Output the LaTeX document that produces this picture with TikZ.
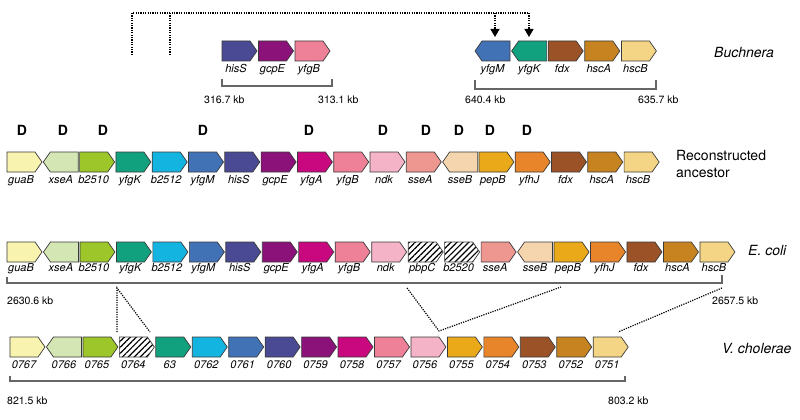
\documentclass[tikz,border=0pt]{standalone}
\usepackage{fontspec}
\setmainfont{TeX Gyre Heros}
\usetikzlibrary{arrows.meta,patterns.meta}
\definecolor{cguaB}{HTML}{F8F4B0}
\definecolor{cxseA}{HTML}{D3E6B4}
\definecolor{cbb}{HTML}{9CC62A}
\definecolor{cyfgK}{HTML}{11A17E}
\definecolor{cbd}{HTML}{14B4E1}
\definecolor{cyfgM}{HTML}{4272B6}
\definecolor{chisS}{HTML}{4A4A94}
\definecolor{cgcpE}{HTML}{8B1279}
\definecolor{cyfgA}{HTML}{C9087F}
\definecolor{cyfgB}{HTML}{EE8098}
\definecolor{cndk}{HTML}{F4B3C6}
\definecolor{csseA}{HTML}{EE9690}
\definecolor{csseB}{HTML}{F4D5AE}
\definecolor{cpepB}{HTML}{E9A918}
\definecolor{cyfhJ}{HTML}{E8852A}
\definecolor{cfdx}{HTML}{9A5226}
\definecolor{chscA}{HTML}{C7831F}
\definecolor{chscB}{HTML}{F4D585}
\definecolor{outl}{HTML}{3A3A3A}
\definecolor{brk}{HTML}{666666}
\tikzset{
  genebox/.style={draw=outl,line width=0.7pt,line join=miter},
  geneanchor/.style={inner sep=0pt,minimum width=35pt,minimum height=20pt},
  genelab/.style={anchor=base,inner sep=0pt,font=\fontsize{11}{12}\selectfont\itshape},
  kblab/.style={anchor=base west,inner sep=0pt,font=\fontsize{10.5}{12}\selectfont},
  species/.style={anchor=base west,inner sep=0pt,font=\fontsize{14}{16}\selectfont},
  dlab/.style={anchor=base,inner sep=0pt,font=\fontsize{14}{16}\selectfont\bfseries},
  bracket/.style={draw=brk,line width=1.1pt},
  dots/.style={draw=black,line width=1.2pt,dash pattern=on 1.2pt off 1.2pt},
  hatch/.style={preaction={fill=white},pattern={Lines[angle=45,distance=4.2pt,line width=1.2pt]}}
}
\def\lbloff{31}
% #1 name, #2 x, #3 ytop, #4 colour, #5 label
\newcommand\geneR[5]{%
  \draw[genebox,fill=#4] (#2,#3) -- ++(28,0) -- ++(7,10) -- ++(-7,10) -- ++(-28,0) -- cycle;
  \node[geneanchor] (#1) at ({#2+17.5},{#3+10}) {};
  \node[genelab] (#1-l) at ({#2+14},{#3+\lbloff}) {#5};
}
\newcommand\geneL[5]{%
  \draw[genebox,fill=#4] (#2,{#3+10}) -- ++(7,-10) -- ++(28,0) -- ++(0,20) -- ++(-28,0) -- cycle;
  \node[geneanchor] (#1) at ({#2+17.5},{#3+10}) {};
  \node[genelab] (#1-l) at ({#2+17.5},{#3+\lbloff}) {#5};
}
\newcommand\geneH[5]{%
  \draw[genebox,hatch] (#2,#3) -- ++(28,0) -- ++(7,10) -- ++(-7,10) -- ++(-28,0) -- cycle;
  \node[geneanchor] (#1) at ({#2+17.5},{#3+10}) {};
  \node[genelab] (#1-l) at ({#2+14},{#3+\lbloff}) {#5};
}
\begin{document}
\begin{tikzpicture}[x=1pt,y=-1pt]
\useasboundingbox (0,0) rectangle (800,420);
\fill[white] (0,0) rectangle (800,420);

% ---------- Buchnera ----------
\foreach \n/\c/\d/\l [count=\i from 0, evaluate=\i as \gx using 222+\i*36.5] in
  {hisS/chisS/R/hisS, gcpE/cgcpE/R/gcpE, yfgB/cyfgB/R/yfgB}
  {\csname gene\d\endcsname{bu-\n}{\gx}{41}{\c}{\l}}
\foreach \n/\c/\d/\l [count=\i from 0, evaluate=\i as \gx using 475+\i*36.6] in
  {yfgM/cyfgM/L/yfgM, yfgK/cyfgK/L/yfgK, fdx/cfdx/R/fdx, hscA/chscA/R/hscA, hscB/chscB/R/hscB}
  {\csname gene\d\endcsname{bu-\n}{\gx}{41}{\c}{\l}}

\coordinate (bka) at (222,79); \coordinate (bkb) at (222,86); \coordinate (bkc) at (332,79);
\draw[bracket] (bka) -- (bkb) -| (bkc);
\coordinate (bkd) at (475,80); \coordinate (bke) at (475,89); \coordinate (bkf) at (656,80);
\draw[bracket] (bkd) -- (bke) -| (bkf);
\node[kblab] (kb1) at (204,103) {316.7 kb};
\node[kblab] (kb2) at (318,103) {313.1 kb};
\node[kblab] (kb3) at (465,103) {640.4 kb};
\node[kblab] (kb4) at (638,103) {635.7 kb};
\node[species,font=\fontsize{14}{16}\selectfont\itshape] (sp1) at (714,57) {Buchnera};

% top dotted connectors
\coordinate (ta) at (132,55); \coordinate (tb) at (132,13);
\coordinate (tc) at (170,55); \coordinate (td) at (170,13);
\coordinate (te) at (495,13); \coordinate (tf) at (495,37);
\coordinate (tg) at (529,13); \coordinate (th) at (529,37);
\draw[dots] (ta) -- (tb) -- (tg);
\draw[dots] (tc) -- (td);
\draw[dots,-{Triangle[width=9pt,length=8pt]}] (te) -- (tf);
\draw[dots,-{Triangle[width=9pt,length=8pt]}] (tg) -- (th);

% ---------- D marks ----------
\foreach \xx [count=\k] in {22,63,103,203,309,383,426,459,490,527}
  {\node[dlab] (d\k) at (\xx,135) {D};}

% ---------- Reconstructed ancestor ----------
\foreach \n/\c/\d/\l [count=\i from 0, evaluate=\i as \gx using 7+\i*36.3] in
  {guaB/cguaB/R/guaB, xseA/cxseA/L/xseA, b2510/cbb/R/b2510, yfgK/cyfgK/R/yfgK,
   b2512/cbd/R/b2512, yfgM/cyfgM/R/yfgM, hisS/chisS/R/hisS, gcpE/cgcpE/R/gcpE,
   yfgA/cyfgA/R/yfgA, yfgB/cyfgB/R/yfgB, ndk/cndk/R/ndk, sseA/csseA/R/sseA,
   sseB/csseB/L/sseB, pepB/cpepB/R/pepB, yfhJ/cyfhJ/R/yfhJ, fdx/cfdx/R/fdx,
   hscA/chscA/R/hscA, hscB/chscB/R/hscB}
  {\csname gene\d\endcsname{an-\n}{\gx}{152}{\c}{\l}}
\node[species] (sp2a) at (676,160) {Reconstructed};
\node[species] (sp2b) at (676,177) {ancestor};

% ---------- E. coli ----------
\def\lbloff{29}
\foreach \n/\c/\d/\l [count=\i from 0, evaluate=\i as \gx using 7+\i*36.47] in
  {guaB/cguaB/R/guaB, xseA/cxseA/L/xseA, b2510/cbb/R/b2510, yfgK/cyfgK/R/yfgK,
   b2512/cbd/R/b2512, yfgM/cyfgM/R/yfgM, hisS/chisS/R/hisS, gcpE/cgcpE/R/gcpE,
   yfgA/cyfgA/R/yfgA, yfgB/cyfgB/R/yfgB, ndk/cndk/R/ndk, pbpC/white/H/pbpC,
   b2520/white/H/b2520, sseA/csseA/R/sseA,
   sseB/csseB/L/sseB, pepB/cpepB/R/pepB, yfhJ/cyfhJ/R/yfhJ, fdx/cfdx/R/fdx,
   hscA/chscA/R/hscA, hscB/chscB/R/hscB}
  {\csname gene\d\endcsname{ec-\n}{\gx}{242}{\c}{\l}}
\coordinate (eka) at (7,277); \coordinate (ekb) at (7,283); \coordinate (ekc) at (722,275);
\draw[bracket] (eka) -- (ekb) -| (ekc);
\node[kblab] (kb5) at (7,304) {2630.6 kb};
\node[kblab] (kb6) at (712,304) {2657.5 kb};
\node[species,font=\fontsize{14}{16}\selectfont\itshape] (sp3) at (748,255) {E. coli};

% ---------- V. cholerae ----------
\def\lbloff{31}
\foreach \n/\c/\d/\l [count=\i from 0, evaluate=\i as \gx using 10+\i*36.45] in
  {0767/cguaB/R/0767, 0766/cxseA/L/0766, 0765/cbb/R/0765, 0764/white/H/0764,
   63/cyfgK/R/63, 0762/cbd/R/0762, 0761/cyfgM/R/0761, 0760/chisS/R/0760,
   0759/cgcpE/R/0759, 0758/cyfgA/R/0758, 0757/cyfgB/R/0757, 0756/cndk/R/0756,
   0755/cpepB/R/0755, 0754/cyfhJ/R/0754, 0753/cfdx/R/0753, 0752/chscA/R/0752,
   0751/chscB/R/0751}
  {\csname gene\d\endcsname{vc-\n}{\gx}{337}{\c}{\l}}
\coordinate (vka) at (10,376); \coordinate (vkb) at (10,381); \coordinate (vkc) at (625,376);
\draw[bracket] (vka) -- (vkb) -| (vkc);
\node[kblab] (kb7) at (7,404) {821.5 kb};
\node[kblab] (kb8) at (608,404) {803.2 kb};
\node[species,font=\fontsize{14}{16}\selectfont\itshape] (sp4) at (722,353) {V. cholerae};

% ---------- lower dotted connectors ----------
\coordinate (la) at (117,288); \coordinate (lb) at (117,332); \coordinate (lc) at (150,332);
\draw[dots] (lb) -- (la) -- (lc);
\coordinate (ld) at (407,288); \coordinate (le) at (439,331); \coordinate (lf) at (561,287);
\draw[dots] (ld) -- (le) -- (lf);
\coordinate (lg) at (722,288); \coordinate (lh) at (618,332);
\draw[dots] (lg) -- (lh);
\end{tikzpicture}
\end{document}
